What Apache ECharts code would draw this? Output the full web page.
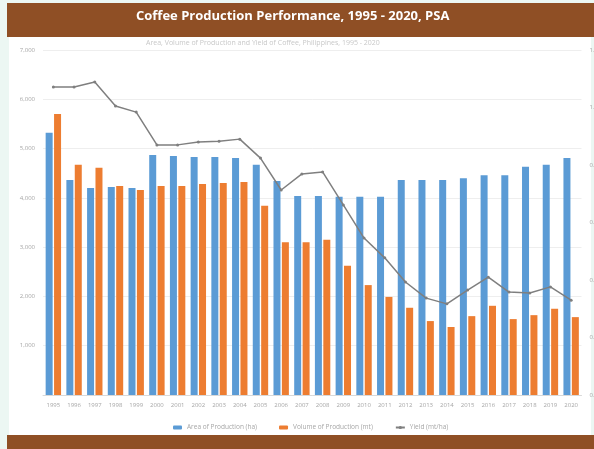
<!DOCTYPE html>
<html>
<head>
<meta charset="utf-8">
<script src="https://cdn.jsdelivr.net/npm/echarts@6/dist/echarts.min.js"></script>
<style>
  html, body { margin: 0; padding: 0; background: #ecf7f3; }
  #chart { width: 594px; height: 449px; }
</style>
</head>
<body>
<div id="chart"></div>
<script>
// coffee: area, volume and yield, 1995 - 2020
var years = ['1995', '1996', '1997', '1998', '1999', '2000', '2001', '2002', '2003',
	'2004', '2005', '2006', '2007', '2008', '2009', '2010', '2011', '2012', '2013',
	'2014', '2015', '2016', '2017', '2018', '2019', '2020'];

var area = [5320, 4360, 4200, 4220, 4200, 4870, 4850, 4830, 4830, 4810, 4670, 4340, 4040,
	4040, 4020, 4020, 4020, 4360, 4360, 4360, 4400, 4460, 4460, 4630, 4670, 4810];

var volume = [5700, 4670, 4610, 4240, 4160, 4240, 4240, 4280, 4300, 4320, 3840, 3100, 3100,
	3150, 2620, 2230, 1990, 1770, 1500, 1380, 1600, 1810, 1540, 1620, 1750, 1580];

var yieldHa = [1.071, 1.071, 1.089, 1.005, 0.984, 0.870, 0.870, 0.880, 0.883, 0.890, 0.824,
	0.713, 0.769, 0.776, 0.661, 0.546, 0.477, 0.393, 0.337, 0.317, 0.365, 0.410, 0.358,
	0.355, 0.376, 0.330];

var brown = '#8f4f25';
var faint = '#a6a6a6';

var option = {
	backgroundColor: '#ecf7f3',
	animation: false,
	graphic: [
		{ type: 'rect', shape: { x: 7, y: 3, width: 587, height: 34 }, style: { fill: brown }, z: -1 },
		{ type: 'rect', shape: { x: 9, y: 37, width: 582, height: 398 }, style: { fill: '#ffffff' }, z: -1 },
		{ type: 'rect', shape: { x: 7, y: 435, width: 587, height: 14 }, style: { fill: brown }, z: -1 }
	],
	title: [
		{
			text: 'Coffee Production Performance, 1995 - 2020, PSA',
			left: 136,
			top: 10,
			padding: 0,
			textStyle: { color: '#ffffff', fontSize: 13, fontWeight: 'bold', fontFamily: 'Open Sans' }
		},
		{
			text: 'Area, Volume of Production and Yield of Coffee, Philippines, 1995 - 2020',
			left: 146,
			top: 39,
			padding: 0,
			textStyle: { color: '#c8c8c8', fontSize: 7, fontWeight: 'normal', fontFamily: 'Open Sans' }
		}
	],
	legend: {
		left: 168,
		top: 419,
		itemWidth: 9,
		itemHeight: 4,
		itemGap: 22,
		textStyle: { color: faint, fontSize: 6.5, fontFamily: 'Open Sans' },
		data: ['Area of Production (ha)', 'Volume of Production (mt)', 'Yield (mt/ha)']
	},
	grid: { left: 43, right: 12.5, top: 50, bottom: 54, outerBoundsMode: 'none' },
	xAxis: {
		type: 'category',
		data: years,
		axisTick: { show: false },
		axisLine: { lineStyle: { color: '#d9d9d9' } },
		axisLabel: { color: faint, fontSize: 6, margin: 7, interval: 0, fontFamily: 'Open Sans' }
	},
	yAxis: [
		{
			type: 'value',
			min: 0,
			max: 7000,
			interval: 1000,
			axisLabel: {
				color: faint,
				fontSize: 6,
				margin: 8,
				showMinLabel: false,
				fontFamily: 'Open Sans',
				formatter: function (v) {
					return v.toLocaleString('en-US');
				}
			},
			splitLine: { lineStyle: { color: '#eeeeee' } }
		},
		{
			type: 'value',
			min: 0,
			max: 1.2,
			interval: 0.2,
			axisLabel: { color: faint, fontSize: 6, margin: 8, fontFamily: 'Open Sans',
				formatter: function (v) { return v.toFixed(1); } },
			splitLine: { show: false }
		}
	],
	series: [
		{
			name: 'Area of Production (ha)',
			type: 'bar',
			data: area,
			barWidth: 7,
			barGap: '20%',
			itemStyle: { color: '#5b9bd5' }
		},
		{
			name: 'Volume of Production (mt)',
			type: 'bar',
			data: volume,
			barWidth: 7,
			itemStyle: { color: '#ed7d31' }
		},
		{
			name: 'Yield (mt/ha)',
			type: 'line',
			yAxisIndex: 1,
			data: yieldHa,
			symbol: 'circle',
			symbolSize: 3,
			lineStyle: { color: '#7f7f7f', width: 1.5 },
			itemStyle: { color: '#7f7f7f' }
		}
	]
};

var chart = echarts.init(document.getElementById('chart'));
chart.setOption(option);
</script>
</body>
</html>
